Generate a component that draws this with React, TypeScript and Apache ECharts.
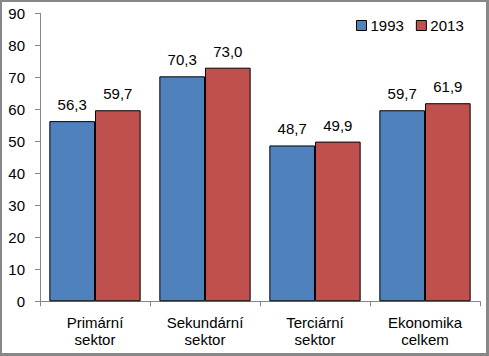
import React, { useEffect, useRef } from "react";
import * as echarts from "echarts";

const categories = ["Primární\nsektor", "Sekundární\nsektor", "Terciární\nsektor", "Ekonomika\ncelkem"];
const seriesNames = ["1993", "2013"];
const values1993 = [56.3, 70.3, 48.7, 59.7];
const values2013 = [59.7, 73.0, 49.9, 61.9];
const colors = ["#4F81BD", "#C0504D"];

const FONT = "'Liberation Sans', Arial, sans-serif";

export default function App() {
  const ref = useRef<HTMLDivElement>(null);
  useEffect(() => {
    if (!ref.current) return;
    const chart = echarts.init(ref.current, undefined, { renderer: "svg" });
    const fmt = (p: any) => Number(p.value).toFixed(1).replace(".", ",");
    const mk = (name: string, data: number[], color: string) => ({
      name,
      type: "bar",
      data,
      barGap: "0%",
      barCategoryGap: "17%",
      itemStyle: { color, borderColor: "#000", borderWidth: 1 },
      label: {
        show: true,
        position: "top",
        distance: 9,
        formatter: fmt,
        color: "#000",
        fontSize: 15,
        fontFamily: FONT,
      },
    });
    chart.setOption({
      animation: false,
      backgroundColor: "#fff",
      textStyle: { fontFamily: FONT },
      legend: {
        data: seriesNames,
        left: 356,
        top: 18,
        padding: 0,
        itemWidth: 10,
        itemHeight: 10,
        itemGap: 12,
        icon: "rect",
        textStyle: { fontSize: 15, color: "#000", fontFamily: FONT, padding: [0, 0, 0, -1] },
        itemStyle: { borderColor: "#000", borderWidth: 1 },
      },
      grid: { left: 40, right: 9, top: 13.3, bottom: 54.7 },
      xAxis: {
        type: "category",
        data: categories,
        axisLine: { lineStyle: { color: "#868686", width: 1 } },
        axisTick: { show: true, length: 5, lineStyle: { color: "#868686" } },
        axisLabel: {
          color: "#000",
          fontSize: 15,
          fontFamily: FONT,
          lineHeight: 17,
          margin: 13,
          interval: 0,
        },
      },
      yAxis: {
        type: "value",
        min: 0,
        max: 90,
        interval: 10,
        axisLine: { show: true, lineStyle: { color: "#868686", width: 1 } },
        axisTick: { show: true, length: 5, lineStyle: { color: "#868686" } },
        splitLine: { show: false },
        axisLabel: { color: "#000", fontSize: 15, fontFamily: FONT, margin: 15 },
      },
      series: [mk(seriesNames[0], values1993, colors[0]), mk(seriesNames[1], values2013, colors[1])],
    });
    return () => chart.dispose();
  }, []);
  return (
    <div style={{ position: "fixed", left: 0, top: 0, width: 489, height: 356, background: "#fff" }}>
      <div ref={ref} style={{ position: "absolute", left: 0, top: 0, width: 489, height: 356 }} />
      <div
        style={{
          position: "absolute",
          left: 0,
          top: 0,
          width: 489,
          height: 356,
          boxSizing: "border-box",
          borderTop: "2px solid #878787",
          borderLeft: "2px solid #878787",
          borderRight: "3px solid #878787",
          borderBottom: "3px solid #878787",
          pointerEvents: "none",
        }}
      />
    </div>
  );
}
